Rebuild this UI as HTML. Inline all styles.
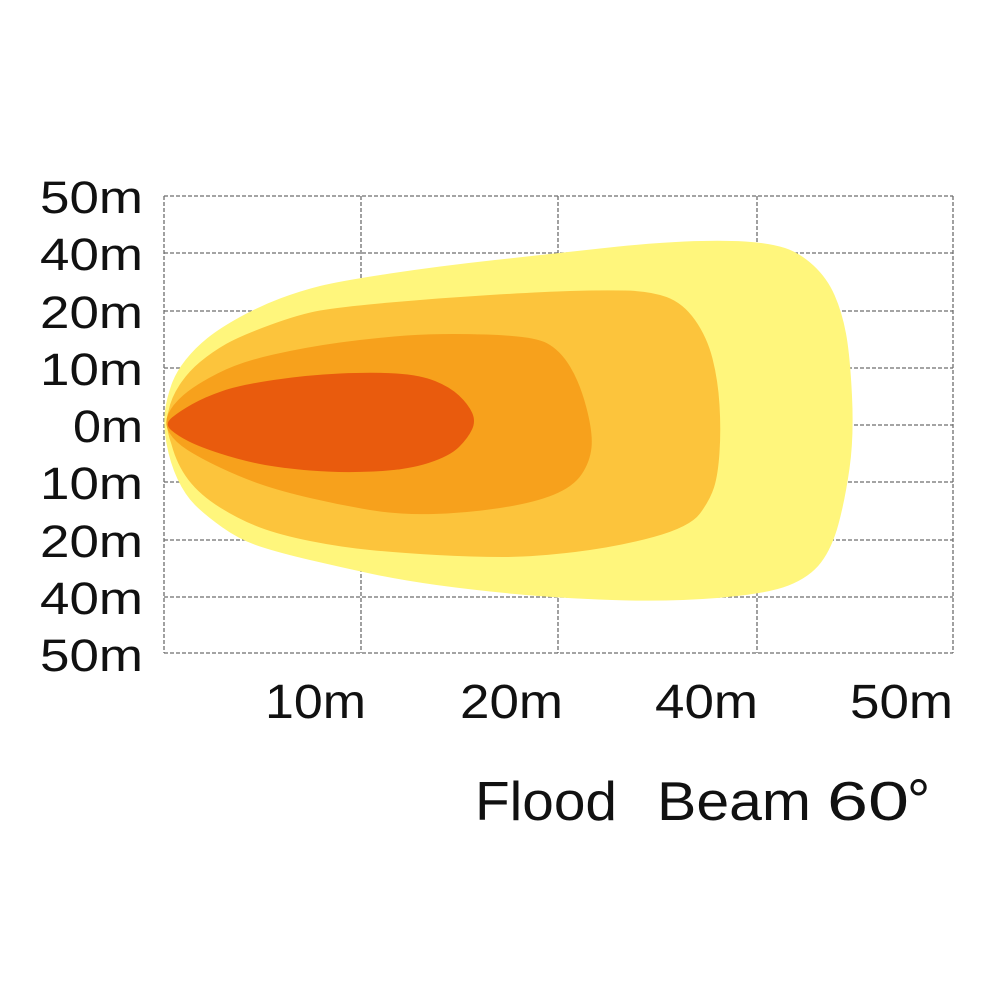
<!DOCTYPE html>
<html>
<head>
<meta charset="utf-8">
<style>
  html,body{margin:0;padding:0;background:#fff;}
  svg{display:block;}
  text{font-family:"Liberation Sans",Arial,sans-serif;fill:#111;}
</style>
</head>
<body>
<svg width="1004" height="1004" viewBox="0 0 1004 1004" xmlns="http://www.w3.org/2000/svg">
  <rect width="1004" height="1004" fill="#ffffff"/>

  <!-- grid -->
  <g stroke="#6e6e6e" stroke-width="1.3" stroke-dasharray="4 2" fill="none">
    <line x1="164" y1="196" x2="953" y2="196"/>
    <line x1="164" y1="253" x2="953" y2="253"/>
    <line x1="164" y1="311" x2="953" y2="311"/>
    <line x1="164" y1="368" x2="953" y2="368"/>
    <line x1="164" y1="425" x2="953" y2="425"/>
    <line x1="164" y1="482" x2="953" y2="482"/>
    <line x1="164" y1="540" x2="953" y2="540"/>
    <line x1="164" y1="597" x2="953" y2="597"/>
    <line x1="164" y1="653" x2="953" y2="653"/>
    <line x1="164" y1="196" x2="164" y2="653"/>
    <line x1="361" y1="196" x2="361" y2="653"/>
    <line x1="558" y1="196" x2="558" y2="653"/>
    <line x1="757" y1="196" x2="757" y2="653"/>
    <line x1="953" y1="196" x2="953" y2="653"/>
  </g>

  <!-- outer (light yellow) -->
  <path fill="#FFF67C" d="M166.5,443.5 Q163,424 165,410.5 Q167,397 171.5,384.5 Q176,372 185.5,360 Q195,348 207.5,338 Q220,328 240,317 Q260,306 280,298.5 Q300,291 320,286 Q340,281 390,273.5 Q440,266 495,260 Q550,254 600,248.5 Q650,243 685,241.5 Q720,240 745,241.5 Q770,243 785,248 Q800,253 813.5,265.5 Q827,278 834.5,295 Q842,312 846,333.5 Q850,355 852,396 Q854,437 849.5,468.5 Q845,500 838.5,524 Q832,548 821,562.5 Q810,577 788.5,585.5 Q767,594 717,598 Q667,602 612,600 Q557,598 515,594 Q473,590 436.5,585 Q400,580 370,573.5 Q340,567 310,560 Q280,553 260,546.5 Q240,540 222.5,527.5 Q205,515 195,505 Q185,495 177.5,479 Q170,463 166.5,443.5 Z"/>

  <!-- second (golden) -->
  <path fill="#FCC43C" d="M171.5,444.5 Q164,424 168.5,411 Q171,398 179.5,385 Q188,372 200,362 Q212,352 226,344 Q240,336 270,325 Q300,314 320,310.5 Q340,307 390,302.5 Q440,298 490,295 Q540,292 570,291 Q600,290 625,290.5 Q650,291 666.5,297 Q683,303 695,320 Q707,337 712.5,358.5 Q718,380 719.5,405 Q721,430 719.5,452.5 Q718,475 714,487.5 Q710,500 700,513.5 Q690,527 653.5,537 Q617,547 575,552 Q533,557 503,557 Q473,557 436.5,555 Q400,553 370,550 Q340,547 310,541 Q280,535 260,527.5 Q240,520 220,507.5 Q200,495 188.5,480 Q177,465 171.5,444.5 Z"/>

  <!-- third (orange) -->
  <path fill="#F7A11C" d="M169.5,433 Q164,424 168,414.5 Q172,405 183.5,395 Q195,385 217.5,373.5 Q240,362 273.5,354.5 Q307,347 340,342.5 Q373,338 406.5,335.5 Q440,333 486.5,334.5 Q533,336 546.5,343 Q560,350 570,366.5 Q580,383 586.5,408 Q593,433 591.5,447.5 Q590,462 581.5,474.5 Q573,487 553,495 Q533,503 500,508 Q467,513 433.5,514 Q400,515 370,510 Q340,505 310,498 Q280,491 260,484 Q240,477 220,467.5 Q200,458 187.5,450 Q175,442 169.5,433 Z"/>

  <!-- inner (red-orange) -->
  <path fill="#E95B0D" d="M171,430 Q164,424 172,417.5 Q180,411 192.5,404 Q205,397 222.5,391 Q240,385 273.5,380 Q307,375 340,373.5 Q373,372 396.5,373.5 Q420,375 435,381 Q450,387 459,395.5 Q468,404 472,412.5 Q476,421 472,429.5 Q468,438 459,447 Q450,456 428.5,463 Q407,470 373.5,471.5 Q340,473 310,470.5 Q280,468 260,464 Q240,460 220,453.5 Q200,447 189,441.5 Q178,436 171,430 Z"/>

  <!-- y labels -->
  <g font-size="45" text-anchor="end">
    <text x="143" y="213" textLength="103" lengthAdjust="spacingAndGlyphs">50m</text>
    <text x="143" y="270" textLength="103" lengthAdjust="spacingAndGlyphs">40m</text>
    <text x="143" y="328" textLength="103" lengthAdjust="spacingAndGlyphs">20m</text>
    <text x="143" y="385" textLength="103" lengthAdjust="spacingAndGlyphs">10m</text>
    <text x="143" y="442" textLength="70" lengthAdjust="spacingAndGlyphs">0m</text>
    <text x="143" y="499" textLength="103" lengthAdjust="spacingAndGlyphs">10m</text>
    <text x="143" y="557" textLength="103" lengthAdjust="spacingAndGlyphs">20m</text>
    <text x="143" y="614" textLength="103" lengthAdjust="spacingAndGlyphs">40m</text>
    <text x="143" y="671" textLength="103" lengthAdjust="spacingAndGlyphs">50m</text>
  </g>

  <!-- x labels -->
  <g font-size="48">
    <text x="265" y="718" textLength="101" lengthAdjust="spacingAndGlyphs">10m</text>
    <text x="460" y="718" textLength="103" lengthAdjust="spacingAndGlyphs">20m</text>
    <text x="655" y="718" textLength="103" lengthAdjust="spacingAndGlyphs">40m</text>
    <text x="850" y="718" textLength="103" lengthAdjust="spacingAndGlyphs">50m</text>
  </g>

  <!-- title -->
  <g font-size="55">
    <text x="475" y="820" textLength="142" lengthAdjust="spacingAndGlyphs">Flood</text>
    <text x="657" y="820" textLength="154" lengthAdjust="spacingAndGlyphs">Beam</text>
    <text x="827" y="820" textLength="82" lengthAdjust="spacingAndGlyphs">60</text>
    <text x="907" y="820" font-size="58">°</text>
  </g>
</svg>
</body>
</html>
